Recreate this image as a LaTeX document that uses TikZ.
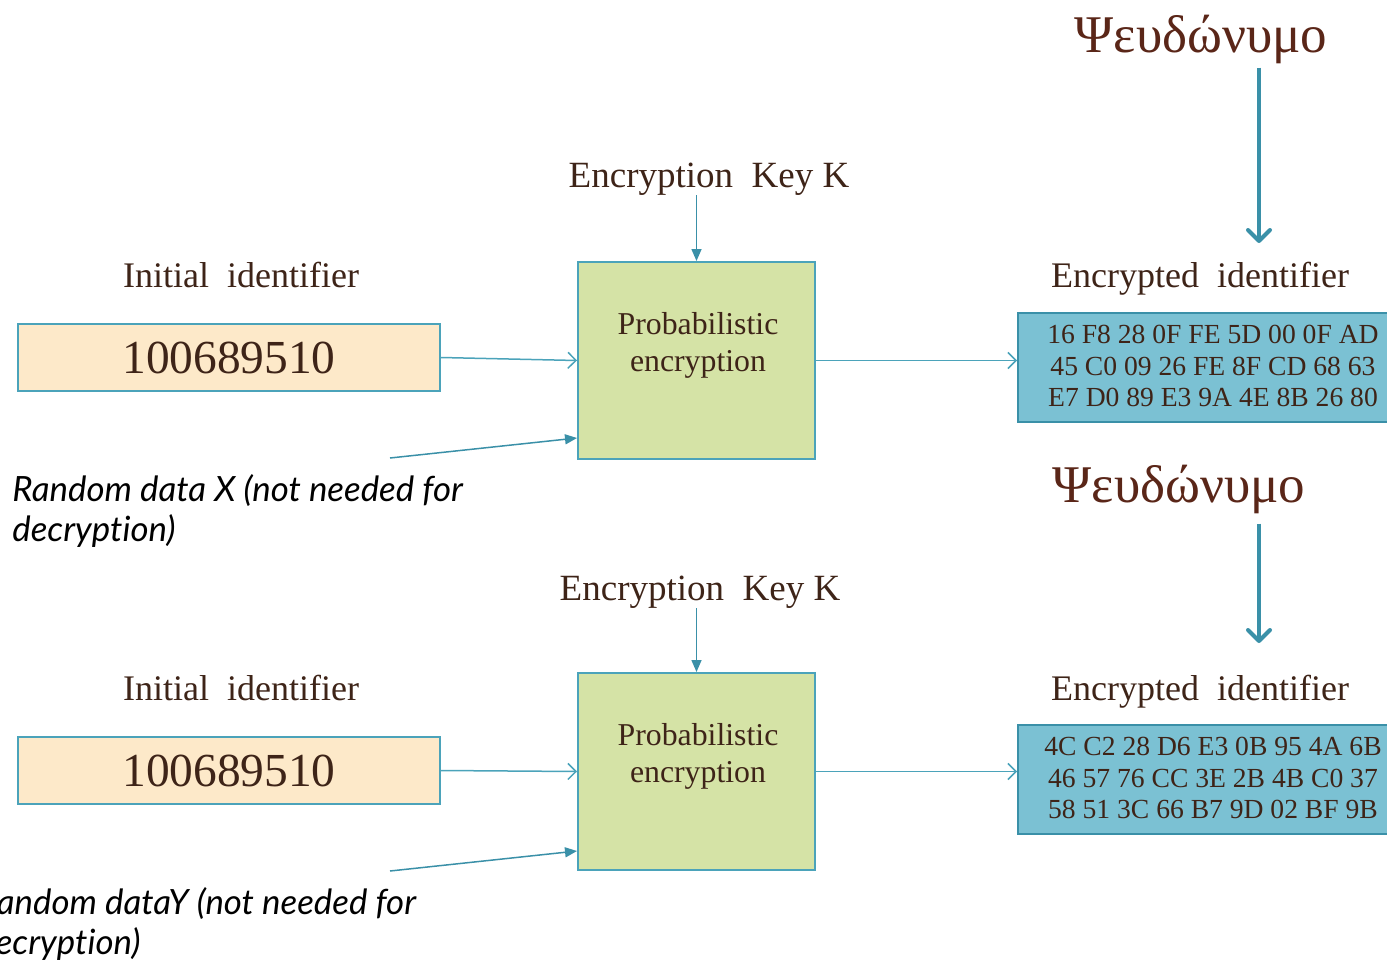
\documentclass[tikz,border=0pt]{standalone}
\usepackage{fontspec}
\setmainfont{Liberation Serif}
\newfontfamily\notefont[Ligatures={NoCommon}]{Lato}
\usetikzlibrary{arrows.meta}

\definecolor{tealline}{HTML}{4BA3BA}
\definecolor{tealdark}{HTML}{3A90A8}
\definecolor{boxgreen}{HTML}{D5E3A6}
\definecolor{boxpeach}{HTML}{FDE9C9}
\definecolor{boxblue}{HTML}{7BC1D3}
\definecolor{inkbrown}{HTML}{3E2418}
\definecolor{psibrown}{HTML}{5A2618}

\begin{document}
\begin{tikzpicture}[x=0.5pt,y=-0.5pt,
  lbl/.style={font=\fontsize{18}{20}\selectfont, text=inkbrown, inner sep=0, anchor=base},
  keylbl/.style={font=\fontsize{18.5}{20}\selectfont, text=inkbrown, inner sep=0, anchor=base},
  psilbl/.style={font=\fontsize{26.5}{29}\selectfont, text=psibrown, inner sep=0, anchor=base},
  note/.style={font=\notefont\itshape\fontsize{17.4}{20}\selectfont, text=black, align=left, anchor=north west, inner sep=0},
  procbox/.style={draw=tealline, line width=1pt, fill=boxgreen, minimum width=118.5pt, minimum height=98.5pt, inner sep=0},
  proctext/.style={font=\fontsize{15.9}{18.5}\selectfont, text=inkbrown, align=center, inner sep=0},
  idbox/.style={draw=tealline, line width=1pt, fill=boxpeach, minimum width=211pt, minimum height=33.5pt, inner sep=0, font=\fontsize{23.7}{26}\selectfont, text=inkbrown},
  hexbox/.style={draw=tealdark, line width=1pt, fill=boxblue, minimum width=191pt, minimum height=54.5pt, inner sep=0},
  hextext/.style={font=\fontsize{13.8}{15.75}\selectfont, align=center, text=inkbrown, inner sep=0},
  flow/.style={draw=tealline, line width=0.75pt, -{Straight Barb[length=4pt,width=8pt]}},
  feed/.style={draw=tealdark, line width=0.75pt, -{Triangle[length=6pt,width=5pt]}},
  pseudo/.style={draw=tealdark, line width=2pt, -{Straight Barb[round,length=5.5pt,width=11pt]}}
]
\useasboundingbox (0,0) rectangle (1387,959);
\clip (0,0) rectangle (1387,959);

% ---------- first encryption ----------
\node[psilbl] (psi1) at (1201,52) {Ψευδώνυμο};
\coordinate (tip1) at (1259,243);
\draw[pseudo, shorten <=2pt] (psi1.south -| tip1) -- (tip1);

\node[keylbl] (key1) at (709,187) {Encryption~~Key K};
\node[lbl] (init1) at (241,287) {Initial~~identifier};
\node[lbl] (enc1) at (1200,287) {Encrypted~~identifier};

\node[idbox] (id1) at (229,357.5) {100689510};
\node[procbox] (prob1) at (696.5,360.5) {};
\node[proctext] (pt1) at (698,345) {Probabilistic\\encryption};
\node[hexbox] (hex1) at (1209,367.5) {};
\node[hextext] (ht1) at (1213,366) {16 F8 28 0F FE 5D 00 0F AD\\45 C0 09 26 FE 8F CD 68 63\\E7 D0 89 E3 9A 4E 8B 26 80};

\node[note] (rnd1txt) at (12,474) {Random data X (not needed for\\decryption)};
\coordinate (rnd1) at (390,458);

\draw[flow] (id1.east) -- (prob1.west);
\draw[flow] (prob1.east) -- (prob1.east -| hex1.west);
\draw[feed] (key1.south -| prob1.north) -- (prob1.north);
\draw[feed] (rnd1) -- ([yshift=11pt]prob1.south west);

% ---------- second encryption ----------
\node[psilbl] (psi2) at (1179,502) {Ψευδώνυμο};
\coordinate (tip2) at (1259,643);
\draw[pseudo, shorten <=5pt] (psi2.south -| tip2) -- (tip2);

\node[keylbl] (key2) at (700,600) {Encryption~~Key K};
\node[lbl] (init2) at (241,700) {Initial~~identifier};
\node[lbl] (enc2) at (1200,700) {Encrypted~~identifier};

\node[idbox] (id2) at (229,770.5) {100689510};
\node[procbox] (prob2) at (696.5,771.5) {};
\node[proctext] (pt2) at (698,756) {Probabilistic\\encryption};
\node[hexbox] (hex2) at (1209,779) {};
\node[hextext] (ht2) at (1213,778) {4C C2 28 D6 E3 0B 95 4A 6B\\46 57 76 CC 3E 2B 4B C0 37\\58 51 3C 66 B7 9D 02 BF 9B};

\node[note] (rnd2txt) at (-23,887) {Random dataY (not needed for\\decryption)};
\coordinate (rnd2) at (390,871);

\draw[flow] (id2.east) -- (prob2.west);
\draw[flow] (prob2.east) -- (prob2.east -| hex2.west);
\draw[feed] (key2.south -| prob2.north) -- (prob2.north);
\draw[feed] (rnd2) -- ([yshift=10pt]prob2.south west);
\end{tikzpicture}
\end{document}
